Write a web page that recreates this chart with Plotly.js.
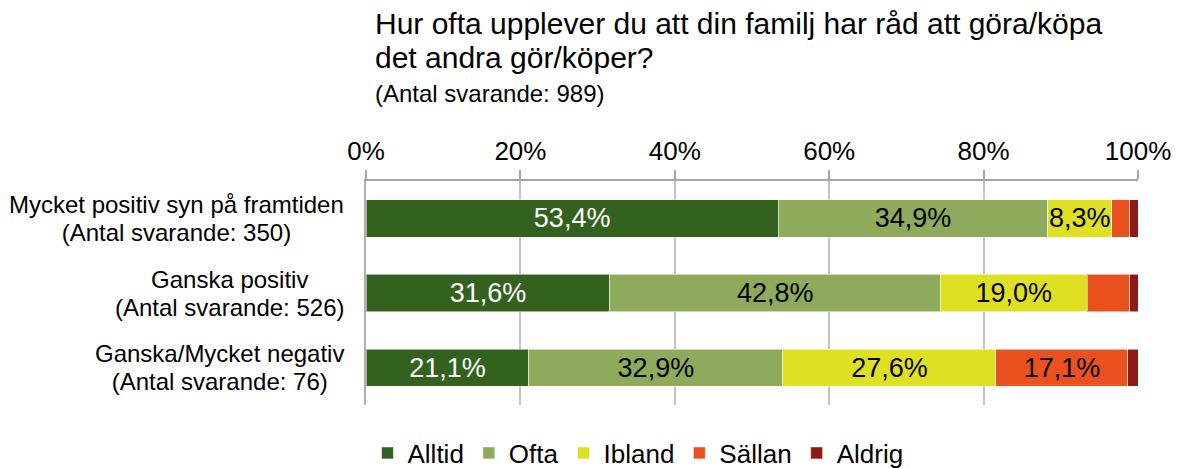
<!DOCTYPE html>
<html>
<head>
<meta charset="utf-8">
<script src="https://cdn.plot.ly/plotly-3.0.1.min.js"></script>
<style>
  html, body { margin: 0; padding: 0; background: #ffffff; }
  #chart { width: 1178px; height: 468px; }
</style>
</head>
<body>
<div id="chart"></div>
<script>
// ---- Data ----
const categories = ['Mycket positiv syn på framtiden', 'Ganska positiv', 'Ganska/Mycket negativ'];
const respondents = [350, 526, 76];
const totalRespondents = 989;
const titleLines = ['Hur ofta upplever du att din familj har råd att göra/köpa', 'det andra gör/köper?'];
const seriesNames = ['Alltid', 'Ofta', 'Ibland', 'Sällan', 'Aldrig'];
const alltid = [53.4, 31.6, 21.1];
const ofta   = [34.9, 42.8, 32.9];
const ibland = [8.3, 19.0, 27.6];
const sallan = [2.3, 5.5, 17.1];
const aldrig = [1.1, 1.1, 1.3];
const xTickValues = [0, 20, 40, 60, 80, 100];
const xTickLabels = ['0%', '20%', '40%', '60%', '80%', '100%'];

// ---- Styles ----
const seriesValues = [alltid, ofta, ibland, sallan, aldrig];
const seriesColors = ['#33621f', '#8eaa5b', '#dfe021', '#ea511e', '#8c1b16'];
const labelColors = ['#ffffff', '#000000', '#000000', '#000000', '#000000'];
const FONT = 'Liberation Sans, Arial, Helvetica, sans-serif';
const labelThreshold = 8;

function fmt(v) { return v.toFixed(1).replace('.', ',') + '%'; }
function sized(t, px) { return '<span style="font-size:' + px + 'px">' + t + '</span>'; }

const traces = seriesNames.map((name, i) => ({
  type: 'bar',
  orientation: 'h',
  name: name,
  y: categories,
  x: seriesValues[i],
  text: seriesValues[i].map(v => v >= labelThreshold ? fmt(v) : ''),
  textposition: 'inside',
  insidetextanchor: 'middle',
  constraintext: 'none',
  textfont: { family: FONT, size: 27, color: labelColors[i] },
  marker: { color: seriesColors[i], line: { color: 'rgba(255,255,255,0.55)', width: 1 } },
  hoverinfo: 'name+x'
}));

const annotations = categories.map((c, i) => ({
  xref: 'paper', yref: 'y',
  x: 0, y: c,
  xanchor: 'right', yanchor: 'middle',
  xshift: -20,
  align: 'center',
  showarrow: false,
  text: sized(c, 24) + '<br>' + sized('(Antal svarande: ' + respondents[i] + ')', 24),
  font: { family: FONT, size: 21.5, color: '#000000' }
}));

const layout = {
  width: 1178,
  height: 468,
  paper_bgcolor: '#ffffff',
  plot_bgcolor: '#ffffff',
  font: { family: FONT, color: '#000000' },
  barmode: 'stack',
  bargap: 0.5,
  margin: { l: 366, r: 40, t: 181, b: 63, autoexpand: false },
  title: {
    text: sized(titleLines[0], 30) + '<br>' + sized(titleLines[1], 30) + '<br>' + sized('(Antal svarande: ' + totalRespondents + ')', 24),
    font: { family: FONT, size: 26, color: '#000000' },
    xref: 'container', yref: 'container',
    x: 375 / 1178, xanchor: 'left',
    y: 1 - 34 / 468, yanchor: 'top',
    pad: { t: 0, b: 0, l: 0, r: 0 }
  },
  xaxis: {
    side: 'top',
    range: [0, 100],
    tickvals: xTickValues,
    ticktext: xTickLabels,
    tickfont: { family: FONT, size: 26, color: '#000000' },
    ticks: 'outside',
    ticklen: 9,
    tickwidth: 1.5,
    tickcolor: '#a6a6a6',
    showline: true,
    linecolor: '#a6a6a6',
    linewidth: 1.5,
    showgrid: true,
    gridcolor: '#c4c4c4',
    gridwidth: 1.5,
    zeroline: false,
    fixedrange: true
  },
  yaxis: {
    autorange: 'reversed',
    showticklabels: false,
    ticks: '',
    showline: true,
    linecolor: '#b0b0b0',
    linewidth: 1.5,
    showgrid: false,
    zeroline: false,
    fixedrange: true
  },
  legend: {
    orientation: 'h',
    xref: 'container', yref: 'container',
    x: 638 / 1178, xanchor: 'center',
    y: 15 / 468, yanchor: 'middle',
    font: { family: FONT, size: 26, color: '#000000' },
    traceorder: 'normal',
    itemwidth: 30,
    bgcolor: 'rgba(0,0,0,0)'
  },
  annotations: annotations,
  showlegend: true
};

Plotly.newPlot('chart', traces, layout, { displayModeBar: false, staticPlot: false });
</script>
</body>
</html>
